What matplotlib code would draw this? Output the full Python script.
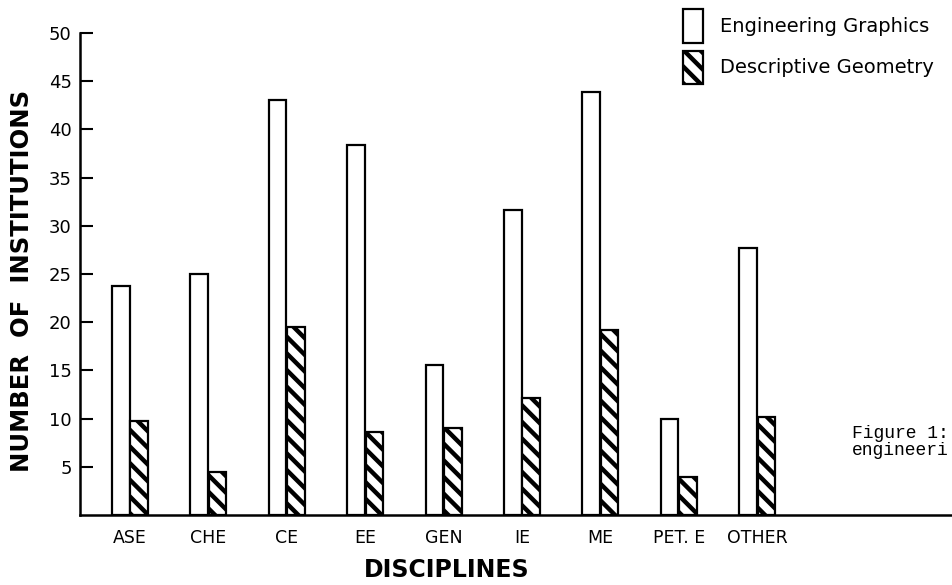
import numpy as np
import matplotlib
matplotlib.use("Agg")
from matplotlib import pyplot as plt

# values
disciplines = ["ASE", "CHE", "CE", "EE", "GEN", "IE", "ME", "PET. E", "OTHER"]
eng_graphics = [23.8, 25.0, 43.0, 38.4, 15.6, 31.6, 43.9, 10.0, 27.7]
desc_geometry = [9.7, 4.5, 19.5, 8.6, 9.0, 12.1, 19.2, 3.9, 10.2]
yticks = [5, 10, 15, 20, 25, 30, 35, 40, 45, 50]

plt.rcParams['hatch.linewidth'] = 3.2
plt.rcParams['font.family'] = 'DejaVu Sans'

W, H = 953, 585
fig = plt.figure(figsize=(W / 100, H / 100), dpi=100)
ax = fig.add_axes([80 / W, 1 - 515 / H, 1 - 80 / W, (515 - 33) / H])

x = np.arange(len(disciplines))
bw = 0.225
ax.bar(x - bw - 0.005, eng_graphics, bw, align='edge', color='white',
       edgecolor='black', linewidth=1.6, label='Engineering Graphics')
ax.bar(x + 0.005, desc_geometry, bw, align='edge', color='white',
       edgecolor='black', linewidth=1.6, hatch='\\\\', label='Descriptive Geometry')

ax.set_xlim(-0.638, 10.497)
ax.set_ylim(0, 50)
ax.set_yticks(yticks)
ax.set_yticklabels([str(v) for v in yticks], fontsize=13)
ax.set_xticks(x)
ax.set_xticklabels(disciplines, fontsize=12.5)
ax.tick_params(axis='y', direction='in', length=9, width=1.5, pad=6)
ax.tick_params(axis='x', length=0, pad=10)
for s in ['top', 'right']:
    ax.spines[s].set_visible(False)
for s in ['left', 'bottom']:
    ax.spines[s].set_linewidth(1.8)

leg = ax.legend(loc='upper left', bbox_to_anchor=(683 / W, 1 - 9 / H),
                bbox_transform=fig.transFigure, frameon=False, fontsize=14,
                handlelength=1.03, handleheight=2.28, handletextpad=0.85,
                labelspacing=0.41, borderpad=0, borderaxespad=0)

fig.text(22 / W, 1 - 281 / H, "NUMBER  OF  INSTITUTIONS", rotation=90,
         ha='center', va='center', fontsize=17.5, fontweight='bold')
fig.text(447 / W, 1 - 570 / H, "DISCIPLINES", ha='center', va='center',
         fontsize=17, fontweight='bold')

fig.text(852 / W, 1 - 438 / H, "Figure 1:", ha='left', va='baseline',
         fontsize=13, family='Liberation Mono')
fig.text(852 / W, 1 - 455 / H, "engineeri", ha='left', va='baseline',
         fontsize=13, family='Liberation Mono')

fig.savefig('out.png', dpi=100)
